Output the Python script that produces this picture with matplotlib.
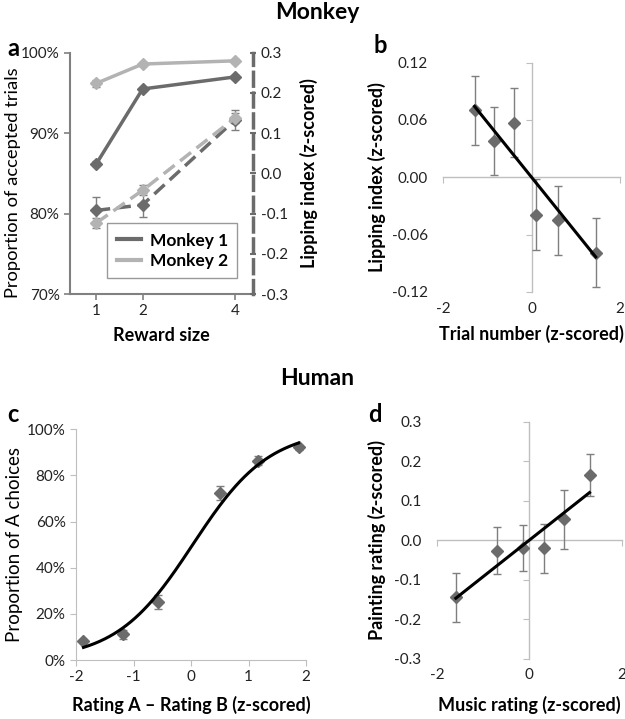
import matplotlib
matplotlib.use("Agg")
import matplotlib.pyplot as plt
import matplotlib.ticker as mticker
import numpy as np

plt.rcParams['font.family'] = ['Lato', 'DejaVu Sans']
plt.rcParams['axes.unicode_minus'] = False

# ---- panel a: monkey reward size ----
reward_size = [1, 2, 4]
accept_m1 = [86.2, 95.5, 97.0]
accept_m1_err = [0.3, 0.3, 0.2]
accept_m2 = [96.2, 98.6, 99.0]
accept_m2_err = [0.4, 0.3, 0.2]
lip_m1 = [-0.092, -0.078, 0.133]
lip_m1_err = [0.033, 0.030, 0.025]
lip_m2 = [-0.123, -0.042, 0.138]
lip_m2_err = [0.012, 0.012, 0.013]

# ---- panel b: lipping vs trial number ----
trial_x = [-1.29, -0.84, -0.39, 0.10, 0.59, 1.45]
trial_lip = [0.070, 0.038, 0.057, -0.039, -0.045, -0.079]
trial_lip_err = [0.036, 0.036, 0.036, 0.037, 0.036, 0.036]
trial_fit = (-0.0575, 0.0)  # slope, intercept

# ---- panel c: human choice ----
rating_diff = [-1.87, -1.19, -0.57, 0.51, 1.17, 1.87]
choice_a = [8.2, 11.1, 25.0, 72.3, 86.3, 92.2]
choice_a_err = [1.0, 2.0, 3.0, 3.0, 2.0, 1.0]
logistic_k, logistic_x0 = 1.5, 0.03

# ---- panel d: painting vs music ----
music_x = [-1.59, -0.71, -0.145, 0.32, 0.75, 1.30]
painting_y = [-0.145, -0.027, -0.019, -0.021, 0.053, 0.165]
painting_err = [0.063, 0.060, 0.058, 0.063, 0.075, 0.053]
music_fit = (0.0925, 0.0)

dark = '#6b6b6b'
light = '#b3b3b3'
axis_gray = '#bfbfbf'
err_gray = '#7f7f7f'
tick_fs = 11
lab_fs = 13

fig = plt.figure(figsize=(6.25, 7.19), dpi=100)

fig.text(0.507, 0.982, 'Monkey', ha='center', va='center', fontsize=16.5, fontweight='bold')
fig.text(0.507, 0.473, 'Human', ha='center', va='center', fontsize=16.5, fontweight='bold')

# panel a
ax = fig.add_axes([0.112, 0.591, 0.293, 0.3356])
ax.errorbar(reward_size, accept_m1, yerr=accept_m1_err, color=dark, lw=2.5, marker='D', ms=6,
            ecolor=err_gray, elinewidth=1, capsize=3, label='Monkey 1')
ax.errorbar(reward_size, accept_m2, yerr=accept_m2_err, color=light, lw=2.5, marker='D', ms=6,
            ecolor=err_gray, elinewidth=1, capsize=3, label='Monkey 2')
ax.set_xlim(0.43, 4.39)
ax.set_ylim(70, 100)
ax.set_xticks(reward_size)
ax.set_yticks([70, 80, 90, 100])
ax.yaxis.set_major_formatter(mticker.FuncFormatter(lambda v, p: f'{v:.0f}%'))
for s in ['top', 'right']:
    ax.spines[s].set_visible(False)
for s in ['left', 'bottom']:
    ax.spines[s].set_color('#808080')
    ax.spines[s].set_linewidth(1.5)
ax.tick_params(axis='both', colors='#808080', labelcolor='#222222', labelsize=tick_fs, length=4, width=1.2)
ax.set_ylabel('Proportion of accepted trials', fontsize=13.2)
ax.yaxis.set_label_coords(-0.27, 0.46)
ax.set_xlabel('Reward size', fontsize=lab_fs, fontweight='bold', labelpad=6)
leg = ax.legend(handles=[plt.Line2D([], [], color=dark, lw=3), plt.Line2D([], [], color=light, lw=3)],
                labels=['Monkey 1', 'Monkey 2'], loc='lower right', bbox_to_anchor=(0.962, 0.029),
                fancybox=False, edgecolor='#808080', prop={'weight': 'bold', 'size': 12.5},
                handlelength=1.4, borderpad=0.55, labelspacing=0.25, handletextpad=0.5)
leg.get_frame().set_linewidth(1.0)

ax2 = ax.twinx()
ax2.errorbar(reward_size, lip_m1, yerr=lip_m1_err, color=dark, lw=2.5, ls=(0, (4, 2)), marker='D', ms=6,
             ecolor=err_gray, elinewidth=1, capsize=3)
ax2.errorbar(reward_size, lip_m2, yerr=lip_m2_err, color=light, lw=2.5, ls=(0, (4, 2)), marker='D', ms=6,
             ecolor=err_gray, elinewidth=1, capsize=3)
ax2.set_ylim(-0.3, 0.3)
ax2.set_yticks(np.arange(-0.3, 0.31, 0.1))
ax2.yaxis.set_major_formatter(mticker.FormatStrFormatter('%.1f'))
for s in ['top', 'left', 'bottom']:
    ax2.spines[s].set_visible(False)
ax2.spines['right'].set_color(dark)
ax2.spines['right'].set_linewidth(2.5)
ax2.spines['right'].set_linestyle((0, (4, 2)))
ax2.tick_params(axis='y', colors=dark, labelcolor='#222222', labelsize=tick_fs, length=4, width=1.5, direction='inout')
ax2.set_ylabel('Lipping index (z-scored)', fontsize=lab_fs, fontweight='bold', labelpad=9)


def excel_axes(ax, xlim, ylim, xticks, yticks, yfmt):
    ax.set_xlim(*xlim)
    ax.set_ylim(*ylim)
    ax.set_xticks(xticks)
    ax.set_yticks(yticks)
    for s in ['top', 'right']:
        ax.spines[s].set_visible(False)
    ax.spines['left'].set_position(('data', 0))
    ax.spines['bottom'].set_position(('data', 0))
    for s in ['left', 'bottom']:
        ax.spines[s].set_color(axis_gray)
        ax.spines[s].set_linewidth(1.0)
    ax.tick_params(labelleft=False, labelbottom=False, color=axis_gray, length=4)
    sy = ax.secondary_yaxis('left')
    sy.set_yticks(yticks)
    sy.yaxis.set_major_formatter(mticker.FormatStrFormatter(yfmt))
    sy.spines['left'].set_visible(False)
    sy.tick_params(length=0, pad=11, labelsize=tick_fs, labelcolor='#222222')
    sx = ax.secondary_xaxis('bottom')
    sx.set_xticks(xticks)
    sx.xaxis.set_major_formatter(mticker.FormatStrFormatter('%d'))
    sx.spines['bottom'].set_visible(False)
    sx.tick_params(length=0, pad=7, labelsize=tick_fs, labelcolor='#222222')
    return sx, sy


# panel b
bx = fig.add_axes([0.709, 0.594, 0.283, 0.319])
sx, sy = excel_axes(bx, (-2, 2), (-0.12, 0.12), [-2, 0, 2], [-0.12, -0.06, 0.0, 0.06, 0.12], '%.2f')
bx.errorbar(trial_x, trial_lip, yerr=trial_lip_err, fmt='D', color=dark, ms=6,
            ecolor=err_gray, elinewidth=1, capsize=3, zorder=3)
fx = np.array([min(trial_x), max(trial_x)])
bx.plot(fx, trial_fit[0] * fx + trial_fit[1], color='black', lw=2.2, zorder=4)
sy.set_ylabel('Lipping index (z-scored)', fontsize=lab_fs, fontweight='bold', labelpad=4)
sx.set_xlabel('Trial number (z-scored)', fontsize=lab_fs, fontweight='bold', labelpad=7)

# panel c
cx = fig.add_axes([0.1216, 0.082, 0.368, 0.321])
cx.errorbar(rating_diff, choice_a, yerr=choice_a_err, fmt='D', color=dark, ms=6,
            ecolor=err_gray, elinewidth=1, capsize=3, zorder=3)
xs = np.linspace(min(rating_diff), max(rating_diff), 200)
cx.plot(xs, 100 / (1 + np.exp(-logistic_k * (xs - logistic_x0))), color='black', lw=2.2, zorder=4)
cx.set_xlim(-2, 2)
cx.set_ylim(0, 100)
cx.set_xticks([-2, -1, 0, 1, 2])
cx.set_yticks([0, 20, 40, 60, 80, 100])
cx.yaxis.set_major_formatter(mticker.FuncFormatter(lambda v, p: f'{v:.0f}%'))
for s in ['top', 'right']:
    cx.spines[s].set_visible(False)
for s in ['left', 'bottom']:
    cx.spines[s].set_color(axis_gray)
cx.tick_params(color=axis_gray, labelcolor='#222222', labelsize=tick_fs, length=4)
cx.set_ylabel('Proportion of A choices', fontsize=13.5, labelpad=3)
cx.set_xlabel('Rating A \u2013 Rating B (z-scored)', fontsize=lab_fs, fontweight='bold', labelpad=8)

# panel d
dx = fig.add_axes([0.699, 0.084, 0.296, 0.3296])
sx, sy = excel_axes(dx, (-2, 2), (-0.3, 0.3), [-2, 0, 2], [-0.3, -0.2, -0.1, 0.0, 0.1, 0.2, 0.3], '%.1f')
dx.errorbar(music_x, painting_y, yerr=painting_err, fmt='D', color=dark, ms=6,
            ecolor=err_gray, elinewidth=1, capsize=3, zorder=3)
fx = np.array([min(music_x), max(music_x)])
dx.plot(fx, music_fit[0] * fx + music_fit[1], color='black', lw=2.2, zorder=4)
sy.set_ylabel('Painting rating (z-scored)', fontsize=lab_fs, fontweight='bold', labelpad=6)
sx.set_xlabel('Music rating (z-scored)', fontsize=lab_fs, fontweight='bold', labelpad=10)

# panel letters
for lbl, x, y in [('a', 0.012, 0.933), ('b', 0.597, 0.937), ('c', 0.011, 0.423), ('d', 0.589, 0.423)]:
    fig.text(x, y, lbl, fontsize=17, fontweight='bold', ha='left', va='center')

fig.savefig('out.png', dpi=100)
